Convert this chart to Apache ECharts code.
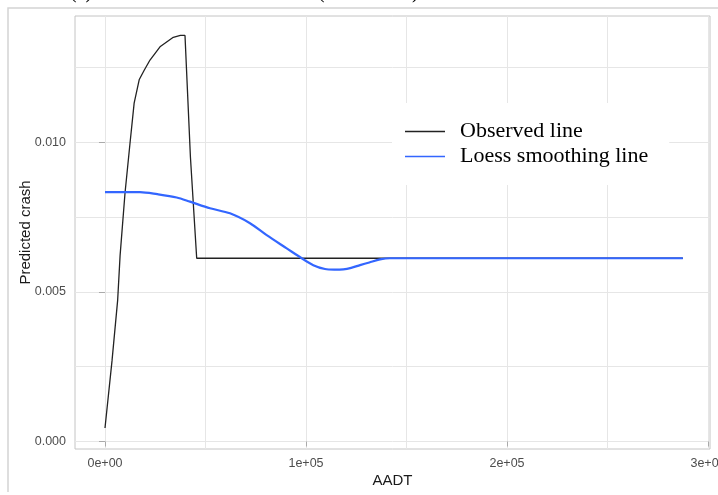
<!DOCTYPE html>
<html>
<head>
<meta charset="utf-8">
<script src="https://cdn.jsdelivr.net/npm/echarts@6/dist/echarts.min.js"></script>
<style>html,body{margin:0;padding:0;background:#fff}#c{width:718px;height:495px}</style>
</head>
<body>
<div id="c"></div>
<script>
// ---- data ----
var observedX = [0, 3500, 6300, 7500, 9950, 12440, 14500, 17060, 19500, 22390, 27360, 33980, 37500, 39800, 42500, 45620, 100000, 145000, 200000, 287500];
var observedY = [0.00045, 0.0027, 0.00472, 0.0062, 0.00829, 0.00996, 0.0113, 0.01209, 0.0124, 0.01274, 0.01318, 0.0135, 0.01356, 0.01356, 0.0095, 0.00612, 0.00612, 0.00612, 0.00612, 0.00612];
var loessX = [0, 10000, 17410, 26000, 35670, 42290, 52240, 62190, 72140, 80450, 90400, 97860, 103630, 109450, 114000, 118560, 122500, 126870, 131500, 136820, 141790, 160000, 200000, 250000, 287500];
var loessY = [0.00833, 0.00833, 0.00833, 0.00826, 0.00815, 0.00801, 0.00779, 0.00762, 0.00729, 0.00689, 0.00645, 0.00612, 0.00589, 0.00576, 0.00574, 0.00575, 0.0058, 0.00589, 0.00598, 0.00608, 0.00612, 0.00612, 0.00612, 0.00612, 0.00612];
var xMajorTicks = [0, 100000, 200000, 300000];
var xMajorLabels = ['0e+00', '1e+05', '2e+05', '3e+05'];
var xMinorTicks = [50000, 150000, 250000];
var yMajorTicks = [0, 0.005, 0.01];
var yMajorLabels = ['0.000', '0.005', '0.010'];
var yMinorTicks = [0.0025, 0.0075, 0.0125];
var seriesNames = ['Observed line', 'Loess smoothing line'];
var seriesColors = ['#222222', '#3366FF'];

function zip(a, b) { return a.map(function (v, i) { return [v, b[i]]; }); }
function labelOf(ticks, labels) {
  return function (v) {
    for (var i = 0; i < ticks.length; i++) if (Math.abs(v - ticks[i]) < 1e-9 * (1 + Math.abs(ticks[i]))) return labels[i];
    return '';
  };
}

var XMIN = -14925, XMAX = 301000, YMIN = -0.00025, YMAX = 0.01421;
var gridColor = '#e6e6e6';

var chart = echarts.init(document.getElementById('c'), null, { renderer: 'canvas' });
chart.setOption({
  animation: false,
  backgroundColor: '#ffffff',
  grid: { left: 75, right: 8, top: 16, bottom: 46, show: true, borderColor: '#c4c4c4', borderWidth: 1, backgroundColor: 'transparent', containLabel: false, outerBoundsMode: 'none' },
  legend: {
    orient: 'vertical', left: 392, top: 103, padding: [16, 21, 16, 13],
    backgroundColor: '#ffffff', itemWidth: 40, itemHeight: 1.5, itemGap: 0,
    textStyle: { fontFamily: 'Liberation Serif', fontSize: 22, color: '#000', lineHeight: 25, padding: [0, 0, 0, 10] },
    data: seriesNames.map(function (n) { return { name: n, icon: 'rect' }; })
  },
  xAxis: [{
    type: 'value', min: XMIN, max: XMAX, position: 'bottom',
    axisLine: { show: false },
    axisTick: { show: true, length: 5, lineStyle: { color: '#aaaaaa' }, customValues: xMajorTicks },
    axisLabel: { customValues: xMajorTicks, formatter: labelOf(xMajorTicks, xMajorLabels), color: '#4d4d4d', fontSize: 12.5, fontFamily: 'Liberation Sans', margin: 8, showMinLabel: true, showMaxLabel: true, hideOverlap: false },
    splitLine: { show: true, lineStyle: { color: gridColor, width: 1 } },
    name: 'AADT', nameLocation: 'middle', nameGap: 24, nameMoveOverlap: false,
    nameTextStyle: { fontSize: 15, color: '#1a1a1a', fontFamily: 'Liberation Sans' }
  }, {
    type: 'value', min: XMIN, max: XMAX, position: 'bottom',
    axisLine: { show: false },
    axisTick: { show: false, customValues: xMinorTicks },
    axisLabel: { show: false, customValues: xMinorTicks },
    splitLine: { show: true, lineStyle: { color: gridColor, width: 1 } }
  }],
  yAxis: [{
    type: 'value', min: YMIN, max: YMAX,
    axisLine: { show: false },
    axisTick: { show: true, length: 6, lineStyle: { color: '#aaaaaa' }, customValues: yMajorTicks },
    axisLabel: { customValues: yMajorTicks, formatter: labelOf(yMajorTicks, yMajorLabels), color: '#4d4d4d', fontSize: 12.5, fontFamily: 'Liberation Sans', margin: 9 },
    splitLine: { show: true, lineStyle: { color: gridColor, width: 1 } },
    name: 'Predicted crash', nameLocation: 'middle', nameGap: 42, nameRotate: 90, nameMoveOverlap: false,
    nameTextStyle: { fontSize: 15, color: '#1a1a1a', fontFamily: 'Liberation Sans' }
  }, {
    type: 'value', min: YMIN, max: YMAX,
    axisLine: { show: false },
    axisTick: { show: false, customValues: yMinorTicks },
    axisLabel: { show: false, customValues: yMinorTicks },
    splitLine: { show: true, lineStyle: { color: gridColor, width: 1 } }
  }],
  series: [{
    name: seriesNames[0], type: 'line', xAxisIndex: 0, yAxisIndex: 0,
    data: zip(observedX, observedY), showSymbol: false, symbol: 'none', smooth: false,
    lineStyle: { color: seriesColors[0], width: 1.3 }, itemStyle: { color: seriesColors[0] }, z: 3
  }, {
    name: seriesNames[1], type: 'line', xAxisIndex: 0, yAxisIndex: 0,
    data: zip(loessX, loessY), showSymbol: false, symbol: 'none', smooth: 0.3,
    lineStyle: { color: seriesColors[1], width: 2.2 }, itemStyle: { color: seriesColors[1] }, z: 4
  }],
  graphic: [
    { type: 'polyline', shape: { points: [[8, 492], [8, 8], [718, 8]] }, style: { stroke: '#d4d4d4', lineWidth: 1.5, fill: null }, silent: true },
    { type: 'text', left: 70, top: -17, style: { text: '(a)', font: '20px "Liberation Serif"', fill: '#000' }, silent: true },
    { type: 'text', left: 318, top: -17, style: { text: '(', font: '20px "Liberation Serif"', fill: '#000' }, silent: true },
    { type: 'text', left: 412, top: -17, style: { text: ')', font: '20px "Liberation Serif"', fill: '#000' }, silent: true }
  ]
});
</script>
</body>
</html>
